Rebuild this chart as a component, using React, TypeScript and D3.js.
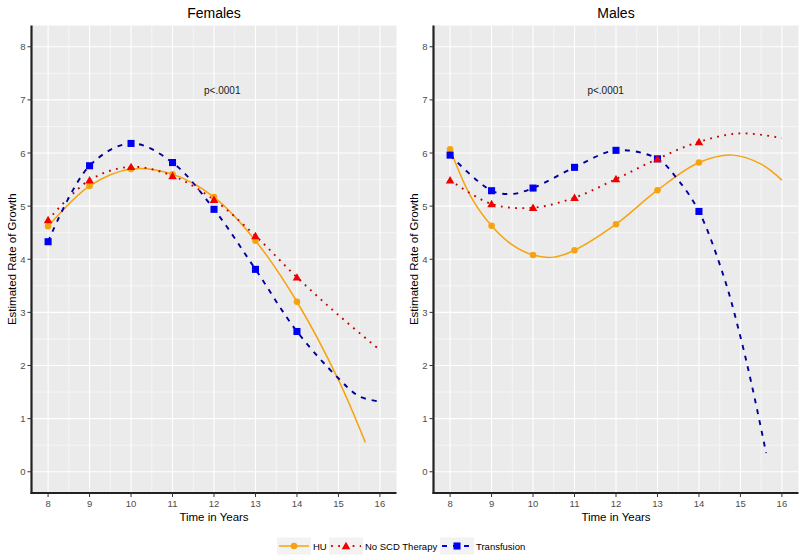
import React from 'react';
import * as d3 from 'd3';

// ---- Data ----
const years = [8, 9, 10, 11, 12, 13, 14];
const xTicks = [8, 9, 10, 11, 12, 13, 14, 15, 16];
const yTicks = [0, 1, 2, 3, 4, 5, 6, 7, 8];
const seriesNames = ['HU', 'No SCD Therapy', 'Transfusion'];
const panelTitles = ['Females', 'Males'];
const pText = 'p<.0001';
const pX = [12.2, 11.75];
const pY = 7.17;

// Observed points (Females)
const femHU = [4.62, 5.38, 5.70, 5.60, 5.17, 4.35, 3.20];
const femNoSCD = [4.74, 5.49, 5.74, 5.57, 5.12, 4.44, 3.66];
const femTrans = [4.33, 5.76, 6.18, 5.82, 4.94, 3.81, 2.64];
// Observed points (Males)
const maleHU = [6.07, 4.63, 4.08, 4.17, 4.66, 5.30, 5.82];
const maleNoSCD = [5.49, 5.04, 4.97, 5.16, 5.51, 5.89, 6.21];
const maleTrans = [5.96, 5.29, 5.34, 5.73, 6.05, 5.89, 4.90];

// Fitted curves (Females)
const femHUFitX = [8, 9, 10, 11, 12, 13, 14, 15, 15.65];
const femHUFitY = [4.62, 5.38, 5.70, 5.60, 5.17, 4.35, 3.20, 1.73, 0.55];
const femNoSCDFitX = [8, 9, 10, 11, 12, 13, 14, 15, 16];
const femNoSCDFitY = [4.74, 5.49, 5.74, 5.57, 5.12, 4.44, 3.66, 2.95, 2.29];
const femTransFitX = [8, 9, 10, 11, 12, 13, 14, 15, 15.5, 16];
const femTransFitY = [4.33, 5.76, 6.18, 5.82, 4.94, 3.81, 2.64, 1.76, 1.42, 1.32];
// Fitted curves (Males)
const maleHUFitX = [8, 8.5, 9, 9.5, 10, 10.5, 11, 12, 13, 14, 14.8, 15.5, 16];
const maleHUFitY = [6.07, 5.18, 4.63, 4.27, 4.08, 4.04, 4.17, 4.66, 5.30, 5.82, 5.96, 5.79, 5.49];
const maleNoSCDFitX = [8, 9, 10, 11, 12, 13, 14, 15, 16];
const maleNoSCDFitY = [5.49, 5.04, 4.97, 5.16, 5.51, 5.89, 6.21, 6.37, 6.28];
const maleTransFitX = [8, 9, 9.5, 10, 11, 12, 13, 13.5, 14, 14.6, 15, 15.3, 15.62];
const maleTransFitY = [5.96, 5.29, 5.23, 5.34, 5.73, 6.05, 5.89, 5.49, 4.90, 3.67, 2.54, 1.54, 0.35];

// ---- Styles ----
const FONT = 'Liberation Sans, Arial, Helvetica, sans-serif';
const styles = [
  { line: '#F5A30F', mark: '#F5A30F', dash: null as string | null, shape: d3.symbolCircle, size: 34, cap: 'butt' },
  { line: '#C80000', mark: '#F00000', dash: '1.8 5.4', shape: d3.symbolTriangle, size: 32, cap: 'butt' },
  { line: '#00009C', mark: '#0000F0', dash: '5 6', shape: d3.symbolSquare, size: 50, cap: 'butt' },
];

const panelsData = [
  {
    points: [femHU, femNoSCD, femTrans],
    fits: [[femHUFitX, femHUFitY], [femNoSCDFitX, femNoSCDFitY], [femTransFitX, femTransFitY]],
  },
  {
    points: [maleHU, maleNoSCD, maleTrans],
    fits: [[maleHUFitX, maleHUFitY], [maleNoSCDFitX, maleNoSCDFitY], [maleTransFitX, maleTransFitY]],
  },
];

const panelRanges = [[31.5, 396.5], [433.5, 798.5]];
const TOP = 25.5;
const BOTTOM = 493;

const yScale = d3.scaleLinear().domain([-0.4, 8.4]).range([BOTTOM, TOP]);

function Panel({ idx }: { idx: number }) {
  const [x0, x1] = panelRanges[idx];
  const xScale = d3.scaleLinear().domain([7.6, 16.4]).range([x0, x1]);
  const data = panelsData[idx];
  const minorX = d3.range(8.5, 16, 1);
  const minorY = d3.range(0.5, 8, 1);
  const line = d3
    .line<[number, number]>()
    .x((d) => xScale(d[0]))
    .y((d) => yScale(d[1]))
    .curve(d3.curveCatmullRom.alpha(0.5));
  const cx = (x0 + x1) / 2;
  const cy = (TOP + BOTTOM) / 2;
  return (
    <g>
      <rect x={x0} y={TOP} width={x1 - x0} height={BOTTOM - TOP} fill="#EBEBEB" />
      {minorX.map((v) => (
        <line key={'mx' + v} x1={xScale(v)} x2={xScale(v)} y1={TOP} y2={BOTTOM} stroke="#fff" strokeWidth={0.55} />
      ))}
      {minorY.map((v) => (
        <line key={'my' + v} x1={x0} x2={x1} y1={yScale(v)} y2={yScale(v)} stroke="#fff" strokeWidth={0.55} />
      ))}
      {xTicks.map((v) => (
        <line key={'gx' + v} x1={xScale(v)} x2={xScale(v)} y1={TOP} y2={BOTTOM} stroke="#fff" strokeWidth={1.1} />
      ))}
      {yTicks.map((v) => (
        <line key={'gy' + v} x1={x0} x2={x1} y1={yScale(v)} y2={yScale(v)} stroke="#fff" strokeWidth={1.1} />
      ))}
      {/* fitted curves */}
      {data.fits.map(([fx, fy], si) => (
        <path
          key={'fit' + si}
          d={line(fx.map((x, i) => [x, fy[i]] as [number, number])) || ''}
          fill="none"
          stroke={styles[si].line}
          strokeWidth={si === 0 ? 1.5 : 1.9}
          strokeDasharray={styles[si].dash || undefined}
          strokeLinecap={styles[si].cap as any}
        />
      ))}
      {/* points */}
      {[0, 2, 1].map((si) =>
        data.points[si].map((v, i) => (
          <path
            key={'pt' + si + '-' + i}
            d={d3.symbol().type(styles[si].shape).size(styles[si].size)() || ''}
            transform={`translate(${xScale(years[i])},${yScale(v) + (si === 1 ? 0.8 : 0)})`}
            fill={styles[si].mark}
          />
        ))
      )}
      {/* p-value */}
      <text x={xScale(pX[idx])} y={yScale(pY)} dominantBaseline="central" textAnchor="middle" fontSize={10} fill="#1a1a1a">
        {pText}
      </text>
      {/* axes */}
      <line x1={x0} x2={x0} y1={TOP} y2={BOTTOM + 1} stroke="#222" strokeWidth={2.2} />
      <line x1={x0 - 1} x2={x1} y1={BOTTOM} y2={BOTTOM} stroke="#222" strokeWidth={2.2} />
      {yTicks.map((v) => (
        <g key={'yt' + v}>
          <line x1={x0 - 4} x2={x0} y1={yScale(v)} y2={yScale(v)} stroke="#333" strokeWidth={1} />
          <text x={x0 - 6} y={yScale(v)} textAnchor="end" dominantBaseline="central" fontSize={9.5} fill="#4D4D4D">
            {v}
          </text>
        </g>
      ))}
      {xTicks.map((v) => (
        <g key={'xt' + v}>
          <line x1={xScale(v)} x2={xScale(v)} y1={BOTTOM} y2={BOTTOM + 4} stroke="#333" strokeWidth={1} />
          <text x={xScale(v)} y={503} textAnchor="middle" dominantBaseline="central" fontSize={9.5} fill="#4D4D4D">
            {v}
          </text>
        </g>
      ))}
      <text x={cx} y={13} textAnchor="middle" dominantBaseline="central" fontSize={14} fill="#000">
        {panelTitles[idx]}
      </text>
      <text x={cx} y={517} textAnchor="middle" dominantBaseline="central" fontSize={11.5} fill="#000">
        Time in Years
      </text>
      <text
        transform={`translate(${x0 - 20},${cy}) rotate(-90)`}
        textAnchor="middle"
        dominantBaseline="central"
        fontSize={11.5}
        fill="#000"
      >
        Estimated Rate of Growth
      </text>
    </g>
  );
}

const legendKeyX = [277, 329, 440];
const legendTextX = [313, 365, 476];

function Legend() {
  const cy = 546;
  return (
    <g>
      {seriesNames.map((name, si) => {
        const kx = legendKeyX[si];
        return (
          <g key={name}>
            <rect x={kx} y={cy - 8.5} width={34} height={17} fill="#F2F2F2" />
            <line
              x1={kx + 2}
              x2={kx + 32}
              y1={cy}
              y2={cy}
              stroke={si === 0 ? styles[si].line : styles[si].mark}
              strokeWidth={si === 0 ? 1.5 : 1.9}
              strokeDasharray={styles[si].dash || undefined}
            />
            <path
              d={d3.symbol().type(styles[si].shape).size(styles[si].size)() || ''}
              transform={`translate(${kx + 17},${cy + (si === 1 ? 0.8 : 0)})`}
              fill={styles[si].mark}
            />
            <text x={legendTextX[si]} y={cy} dominantBaseline="central" fontSize={9.5} fill="#000">
              {name}
            </text>
          </g>
        );
      })}
    </g>
  );
}

export default function App() {
  return (
    <svg
      width={800}
      height={560}
      style={{ position: 'absolute', left: 0, top: 0, background: '#fff' }}
      fontFamily={FONT}
    >
      <rect width={800} height={560} fill="#fff" />
      <Panel idx={0} />
      <Panel idx={1} />
      <Legend />
    </svg>
  );
}
